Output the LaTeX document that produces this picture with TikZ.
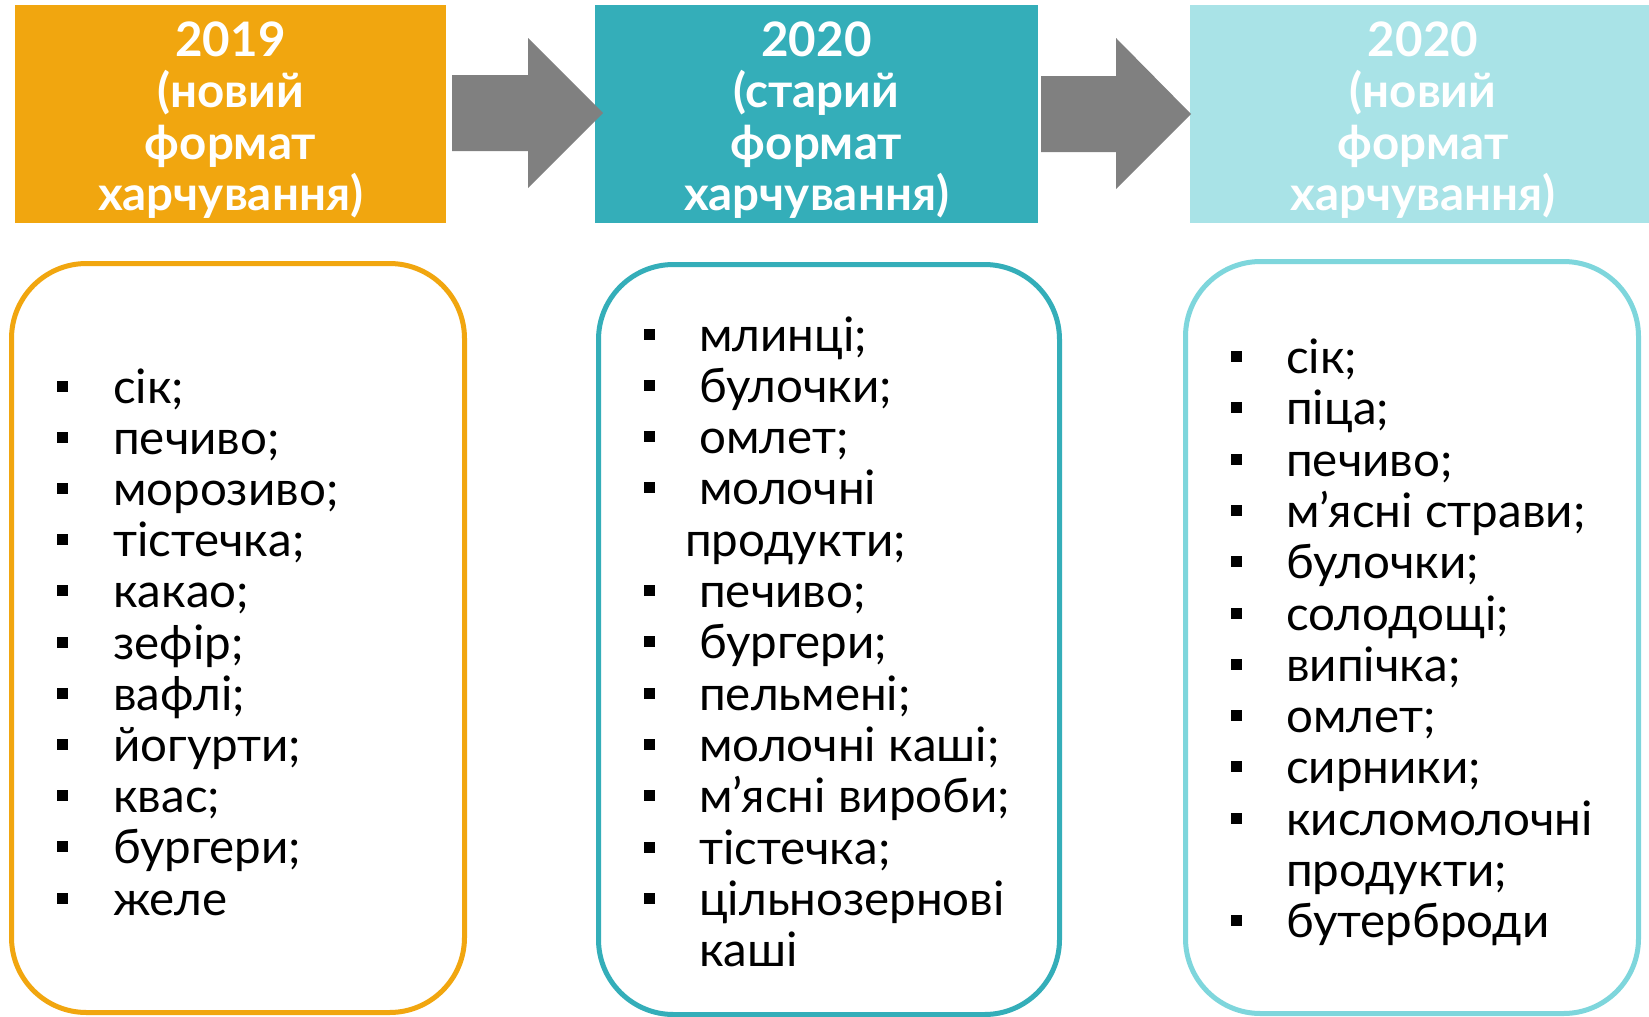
\documentclass[tikz,border=0pt]{standalone}
\usepackage{fontspec}
\setmainfont{Lato}
\definecolor{orng}{HTML}{F1A60F}
\definecolor{tealc}{HTML}{34AEB9}
\definecolor{lcyan}{HTML}{A9E3E7}
\definecolor{cyanline}{HTML}{7ED6DC}
\definecolor{arrgray}{HTML}{808080}
\begin{document}
\begin{tikzpicture}[x=1pt,y=-1pt,
  hdrbox/.style={rectangle, inner sep=0pt, outer sep=0pt, minimum height=218pt},
  hdrtext/.style={inner sep=0pt, text=white, font=\bfseries\fontsize{47.5}{51.3}\selectfont, align=center},
  card/.style={rectangle, line width=5pt, rounded corners=75pt, fill=white, inner sep=0pt},
  itemtext/.style={anchor=base west, inner sep=0pt, font=\fontsize{47.5}{51}\selectfont},
  bul/.style={rectangle, fill=black, minimum size=11pt, inner sep=0pt}
]
\useasboundingbox (0,0) rectangle (1649,1017);
% headers
\node[hdrbox, fill=orng, minimum width=431pt] (h1) at (230.5,114) {};
\node[hdrbox, fill=tealc, minimum width=443pt] (h2) at (816.5,114) {};
\node[hdrbox, fill=lcyan, minimum width=459pt] (h3) at (1419.5,114) {};
\node[hdrtext] (t1) at (230.5,120) {2019\\(новий\\формат\\харчування)};
\node[hdrtext] (t2) at (816.5,120) {2020\\(старий\\формат\\харчування)};
\node[hdrtext] (t3) at (1423,120) {2020\\(новий\\формат\\харчування)};
% block arrows
\fill[arrgray] (452,75) -- (528,75) -- (528,38) -- (603,113) -- (528,188) -- (528,151) -- (452,151) -- cycle;
\fill[arrgray] (1041,76) -- (1116,76) -- (1116,38) -- (1191,114) -- (1116,189) -- (1116,152) -- (1041,152) -- cycle;
% cards
\node[card, draw=orng, minimum width=453pt, minimum height=749pt] (c1) at (238,638) {};
\node[card, draw=tealc, minimum width=461pt, minimum height=750pt] (c2) at (829,639.5) {};
\node[card, draw=cyanline, minimum width=453pt, minimum height=752pt] (c3) at (1412,637.5) {};
% lists
\foreach \t/\b/\xx [count=\k from 0] in {сік;/1/113, печиво;/1/113, морозиво;/1/113, тістечка;/1/113, какао;/1/113, зефір;/1/113, вафлі;/1/113, йогурти;/1/113, квас;/1/113, бургери;/1/113, желе/1/113}{
  \node[itemtext] (la-\k) at (\xx, 403+\k*51.2) {\t};
  \ifnum\b=1 \node[bul] (sa-\k) at (62.5, 386+\k*51.2) {};\fi
}
\foreach \t/\b/\xx [count=\k from 0] in {млинці;/1/699, булочки;/1/699, омлет;/1/699, молочні/1/699, продукти;/0/685, печиво;/1/699, бургери;/1/699, пельмені;/1/699, молочні каші;/1/699, м’ясні вироби;/1/699, тістечка;/1/699, цільнозернові/1/699, каші/0/699}{
  \node[itemtext] (lb-\k) at (\xx, 351+\k*51.3) {\t};
  \ifnum\b=1 \node[bul] (sb-\k) at (649.5, 334+\k*51.3) {};\fi
}
\foreach \t/\b/\xx [count=\k from 0] in {сік;/1/1286, піца;/1/1286, печиво;/1/1286, м’ясні страви;/1/1286, булочки;/1/1286, солодощі;/1/1286, випічка;/1/1286, омлет;/1/1286, сирники;/1/1286, кисломолочні/1/1286, продукти;/0/1286, бутерброди/1/1286}{
  \node[itemtext] (lc-\k) at (\xx, 373.5+\k*51.3) {\t};
  \ifnum\b=1 \node[bul] (sc-\k) at (1236, 356.5+\k*51.3) {};\fi
}
\end{tikzpicture}
\end{document}
